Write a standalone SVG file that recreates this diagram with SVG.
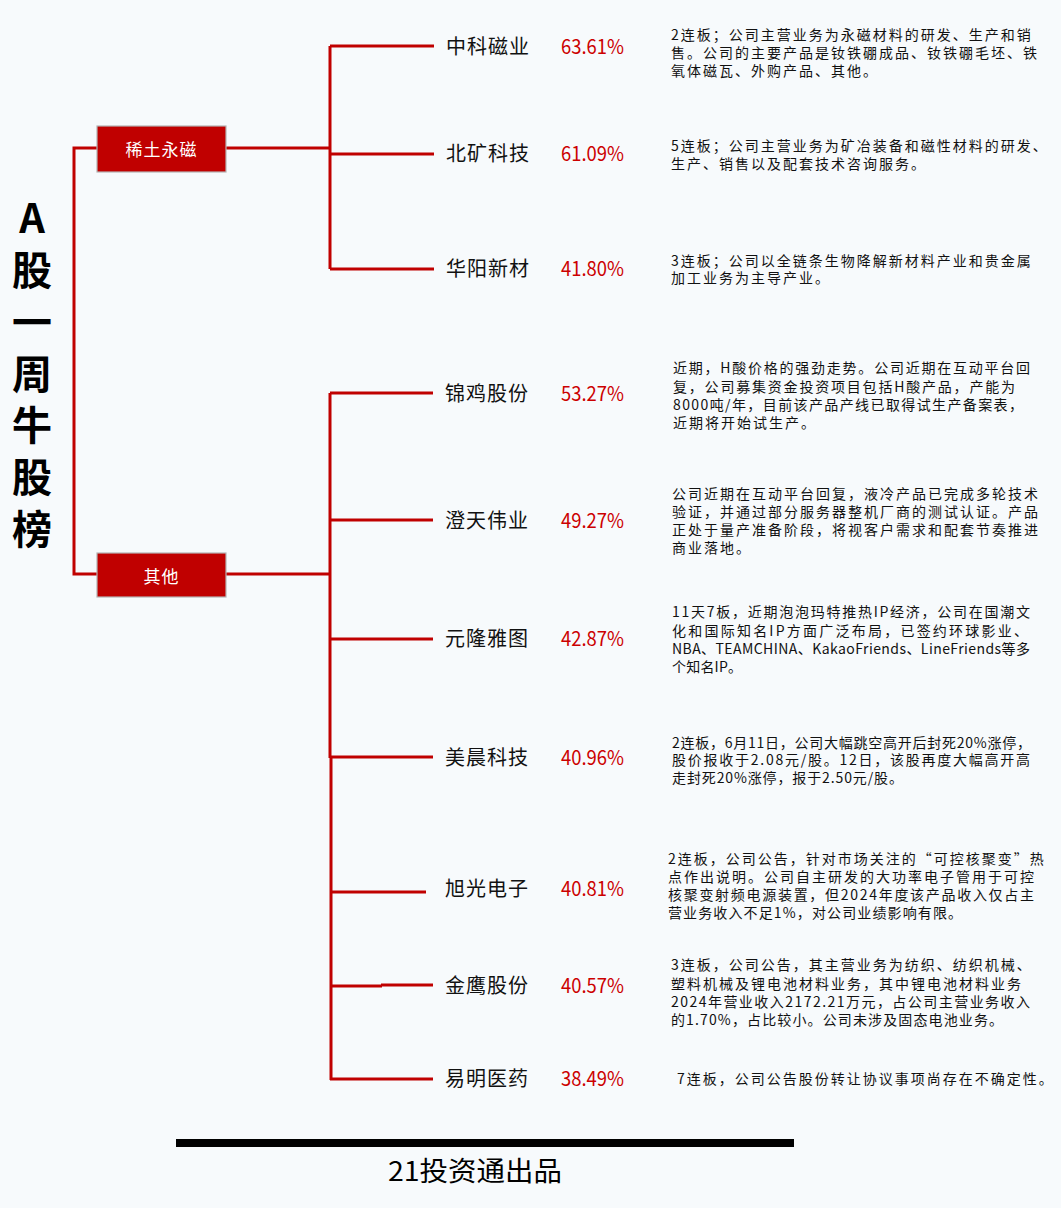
<svg xmlns="http://www.w3.org/2000/svg" width="1061" height="1208" viewBox="0 0 1061 1208">
<style>
.bg{fill:#f7fafc}
.ln{stroke:#c00000;stroke-width:3;fill:none}
.box rect{fill:#c00000;stroke:#b4b4b4;stroke-width:1.2}
.box text{fill:#ffffff;font-family:"Noto Sans CJK SC",sans-serif;font-size:17px;letter-spacing:1px;text-anchor:middle;dominant-baseline:central}
.nm{fill:#111;font-family:"Noto Sans CJK SC",sans-serif;font-size:20px;letter-spacing:1px;dominant-baseline:central}
.pc{fill:#cc0000;font-family:"Noto Sans CJK SC",sans-serif;font-size:20px;dominant-baseline:central}
.ds{fill:#111;font-family:"Noto Sans CJK SC",sans-serif;font-size:14px;letter-spacing:2px;dominant-baseline:central}
.dl{fill:#111;font-family:"Noto Sans CJK SC",sans-serif;font-size:14px;letter-spacing:0px;dominant-baseline:central}
.tt{fill:#000;font-family:"Noto Sans CJK SC",sans-serif;font-size:40px;font-weight:700;text-anchor:middle;dominant-baseline:central}
.ft{fill:#000;font-family:"Noto Sans CJK SC",sans-serif;font-size:27px;text-anchor:middle;dominant-baseline:central}
</style>
<rect class="bg" x="0" y="0" width="1061" height="1208"/>

<g id="title">
<text class="tt" x="32" y="216">A</text>
<text class="tt" x="32" y="268">股</text>
<text class="tt" x="32" y="320">一</text>
<text class="tt" x="32" y="372">周</text>
<text class="tt" x="32" y="423">牛</text>
<text class="tt" x="32" y="475">股</text>
<text class="tt" x="32" y="527">榜</text>
</g>

<g id="connectors">
<path class="ln" d="M97,148 H74 V574 H97"/>
<path class="ln" d="M226,148 H330"/>
<path class="ln" d="M330,46 V269"/>
<path class="ln" d="M330,46 H434 M330,154 H434 M330,269 H434"/>
<path class="ln" d="M226,574 H330"/>
<path class="ln" d="M330,393 V758"/>
<path class="ln" d="M331,756 V1080"/>
<path class="ln" d="M330,393 H433 M330,520 H433 M330,639 H433 M330,757 H433 M330,892 H426 M330,986 H382 M381,985 H433 M330,1079 H433"/>
</g>

<g id="cat-xitu" class="box">
<rect x="97" y="126" width="129" height="46"/>
<text x="161.5" y="148">稀土永磁</text>
</g>
<g id="cat-qita" class="box">
<rect x="97" y="553" width="129" height="44"/>
<text x="161.5" y="575">其他</text>
</g>

<g id="n1">
<text class="nm" x="446" y="45">中科磁业</text>
<text class="pc" x="561" y="45" textLength="63" lengthAdjust="spacingAndGlyphs">63.61%</text>
<text class="ds" x="671" y="34">2连板；公司主营业务为永磁材料的研发、生产和销</text>
<text class="ds" x="671" y="52">售。公司的主要产品是钕铁硼成品、钕铁硼毛坯、铁</text>
<text class="ds" x="671" y="70">氧体磁瓦、外购产品、其他。</text>
</g>
<g id="n2">
<text class="nm" x="446" y="152">北矿科技</text>
<text class="pc" x="561" y="152" textLength="63" lengthAdjust="spacingAndGlyphs">61.09%</text>
<text class="ds" x="671" y="145">5连板；公司主营业务为矿冶装备和磁性材料的研发、</text>
<text class="ds" x="671" y="163">生产、销售以及配套技术咨询服务。</text>
</g>
<g id="n3">
<text class="nm" x="446" y="267">华阳新材</text>
<text class="pc" x="561" y="267" textLength="63" lengthAdjust="spacingAndGlyphs">41.80%</text>
<text class="ds" x="671" y="260">3连板；公司以全链条生物降解新材料产业和贵金属</text>
<text class="ds" x="671" y="277">加工业务为主导产业。</text>
</g>
<g id="n4">
<text class="nm" x="445" y="392">锦鸡股份</text>
<text class="pc" x="561" y="392" textLength="63" lengthAdjust="spacingAndGlyphs">53.27%</text>
<text class="dl" x="673" y="367" textLength="357">近期，H酸价格的强劲走势。公司近期在互动平台回</text>
<text class="dl" x="673" y="386" textLength="342">复，公司募集资金投资项目包括H酸产品，产能为</text>
<text class="dl" x="673" y="404" textLength="350">8000吨/年，目前该产品产线已取得试生产备案表，</text>
<text class="ds" x="673" y="422">近期将开始试生产。</text>
</g>
<g id="n5">
<text class="nm" x="445" y="519">澄天伟业</text>
<text class="pc" x="561" y="519" textLength="63" lengthAdjust="spacingAndGlyphs">49.27%</text>
<text class="ds" x="672" y="493">公司近期在互动平台回复，液冷产品已完成多轮技术</text>
<text class="ds" x="672" y="511">验证，并通过部分服务器整机厂商的测试认证。产品</text>
<text class="ds" x="672" y="529">正处于量产准备阶段，将视客户需求和配套节奏推进</text>
<text class="ds" x="672" y="547">商业落地。</text>
</g>
<g id="n6">
<text class="nm" x="445" y="637">元隆雅图</text>
<text class="pc" x="561" y="637" textLength="63" lengthAdjust="spacingAndGlyphs">42.87%</text>
<text class="dl" x="672" y="611" textLength="358">11天7板，近期泡泡玛特推热IP经济，公司在国潮文</text>
<text class="dl" x="672" y="630" textLength="356">化和国际知名IP方面广泛布局，已签约环球影业、</text>
<text class="dl" x="672" y="648" textLength="358">NBA、TEAMCHINA、KakaoFriends、LineFriends等多</text>
<text class="dl" x="672" y="666" textLength="70">个知名IP。</text>
</g>
<g id="n7">
<text class="nm" x="445" y="756">美晨科技</text>
<text class="pc" x="561" y="756" textLength="63" lengthAdjust="spacingAndGlyphs">40.96%</text>
<text class="dl" x="672" y="742" textLength="359">2连板，6月11日，公司大幅跳空高开后封死20%涨停，</text>
<text class="dl" x="672" y="759" textLength="358">股价报收于2.08元/股。12日，该股再度大幅高开高</text>
<text class="dl" x="672" y="777" textLength="231">走封死20%涨停，报于2.50元/股。</text>
</g>
<g id="n8">
<text class="nm" x="445" y="887">旭光电子</text>
<text class="pc" x="561" y="887" textLength="63" lengthAdjust="spacingAndGlyphs">40.81%</text>
<text class="ds" x="668" y="858">2连板，公司公告，针对市场关注的“可控核聚变”热</text>
<text class="ds" x="668" y="876">点作出说明。公司自主研发的大功率电子管用于可控</text>
<text class="dl" x="668" y="894" textLength="366">核聚变射频电源装置，但2024年度该产品收入仅占主</text>
<text class="dl" x="668" y="912" textLength="294">营业务收入不足1%，对公司业绩影响有限。</text>
</g>
<g id="n9">
<text class="nm" x="445" y="984">金鹰股份</text>
<text class="pc" x="561" y="984" textLength="63" lengthAdjust="spacingAndGlyphs">40.57%</text>
<text class="ds" x="671" y="964">3连板，公司公告，其主营业务为纺织、纺织机械、</text>
<text class="ds" x="671" y="983">塑料机械及锂电池材料业务，其中锂电池材料业务</text>
<text class="dl" x="671" y="1001" textLength="359">2024年营业收入2172.21万元，占公司主营业务收入</text>
<text class="dl" x="671" y="1019" textLength="332">的1.70%，占比较小。公司未涉及固态电池业务。</text>
</g>
<g id="n10">
<text class="nm" x="445" y="1077">易明医药</text>
<text class="pc" x="561" y="1077" textLength="63" lengthAdjust="spacingAndGlyphs">38.49%</text>
<text class="ds" x="677" y="1078">7连板，公司公告股份转让协议事项尚存在不确定性。</text>
</g>

<g id="footer">
<rect x="176" y="1139" width="618" height="8" fill="#000"/>
<text class="ft" x="475" y="1169" textLength="174" lengthAdjust="spacingAndGlyphs">21投资通出品</text>
</g>
</svg>
